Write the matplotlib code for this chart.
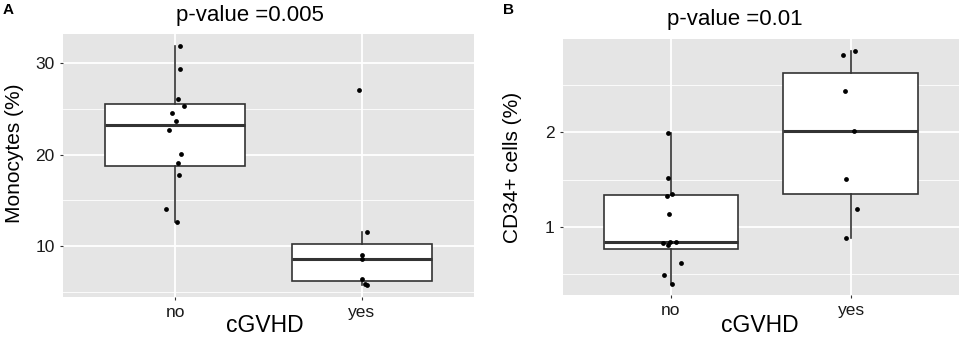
import numpy as np
import matplotlib
matplotlib.use('Agg')
import matplotlib.pyplot as plt
from matplotlib.ticker import MultipleLocator

plt.rcParams['font.family'] = ['Liberation Sans', 'DejaVu Sans']

# Panel A: monocytes (%) by cGVHD
groups = ['no', 'yes']
mono_no = [31.9, 29.4, 26.1, 25.3, 24.6, 23.7, 22.7, 20.05, 19.1, 17.75, 14.0, 12.6]
mono_no_jit = [0.025, 0.025, 0.018, 0.046, -0.015, 0.005, -0.031, 0.032, 0.014, 0.023, -0.05, 0.009]
mono_yes = [27.05, 11.5, 8.98, 8.55, 6.4, 5.8, 5.7]
mono_yes_jit = [-0.015, 0.025, 0.0, 0.0, 0.003, 0.014, 0.027]

# Panel B: CD34+ cells (%) by cGVHD
cd34_no = [1.99, 1.516, 1.35, 1.325, 1.135, 0.827, 0.84, 0.837, 0.81, 0.61, 0.484, 0.39]
cd34_no_jit = [-0.016, -0.015, 0.004, -0.024, -0.009, -0.042, -0.005, 0.026, -0.018, 0.055, -0.038, 0.004]
cd34_yes = [2.82, 2.86, 2.44, 2.018, 1.505, 1.188, 0.88]
cd34_yes_jit = [-0.046, 0.022, -0.036, 0.015, -0.027, 0.031, -0.029]

W, H = 965, 338
fig = plt.figure(figsize=(W / 100, H / 100), dpi=100)

def px_axes(l, t, r, b):
    return fig.add_axes([l / W, 1 - b / H, (r - l) / W, (b - t) / H])

def draw_panel(ax, data, jits, ylim, major, minor):
    ax.set_facecolor('#E5E5E5')
    for s in ax.spines.values():
        s.set_visible(False)
    ax.set_axisbelow(True)
    ax.yaxis.set_major_locator(MultipleLocator(major))
    ax.yaxis.set_minor_locator(MultipleLocator(minor))
    ax.grid(which='major', color='white', linewidth=1.3)
    ax.grid(which='minor', axis='y', color='white', linewidth=0.6)
    ax.boxplot(data, positions=[1, 2], widths=0.75, whis=1.5, showfliers=False,
               patch_artist=True,
               boxprops=dict(facecolor='white', edgecolor='#333333', linewidth=1.2),
               whiskerprops=dict(color='#333333', linewidth=1.2),
               capprops=dict(linewidth=0),
               medianprops=dict(color='#333333', linewidth=2.2))
    for i, (vals, jit) in enumerate(zip(data, jits)):
        x = (i + 1) + np.array(jit)
        ax.scatter(x, vals, s=12, color='black', zorder=5, linewidths=0)
    ax.set_xlim(0.4, 2.6)
    ax.set_ylim(*ylim)
    ax.set_xticks([1, 2])
    ax.set_xticklabels(groups)
    ax.tick_params(axis='both', which='major', length=2, color='#333333',
                   labelsize=12.5, labelcolor='#1a1a1a', pad=4)
    ax.tick_params(axis='y', which='minor', length=0)

axA = px_axes(63, 34, 474, 297)
draw_panel(axA, [mono_no, mono_yes], [mono_no_jit, mono_yes_jit], (4.4, 33.2), 10, 5)
axB = px_axes(563, 39, 959, 295)
draw_panel(axB, [cd34_no, cd34_yes], [cd34_no_jit, cd34_yes_jit], (0.276, 2.99), 1, 0.5)

# titles, axis labels, panel letters
fig.text(250 / W, 1 - 15 / H, 'p-value =0.005', ha='center', va='center', fontsize=16)
fig.text(735 / W, 1 - 20 / H, 'p-value =0.01', ha='center', va='center', fontsize=16)
fig.text(15 / W, 1 - 153 / H, 'Monocytes (%)', rotation=90, ha='center', va='center', fontsize=15)
fig.text(512 / W, 1 - 167 / H, 'CD34+ cells (%)', rotation=90, ha='center', va='center', fontsize=15)
fig.text(265 / W, 1 - 325 / H, 'cGVHD', ha='center', va='center', fontsize=16.5)
fig.text(760 / W, 1 - 325 / H, 'cGVHD', ha='center', va='center', fontsize=16.5)
fig.text(3 / W, 1 - 10 / H, 'A', ha='left', va='center', fontsize=11, fontweight='bold')
fig.text(503 / W, 1 - 10 / H, 'B', ha='left', va='center', fontsize=11, fontweight='bold')

fig.savefig('out.png', dpi=100)
